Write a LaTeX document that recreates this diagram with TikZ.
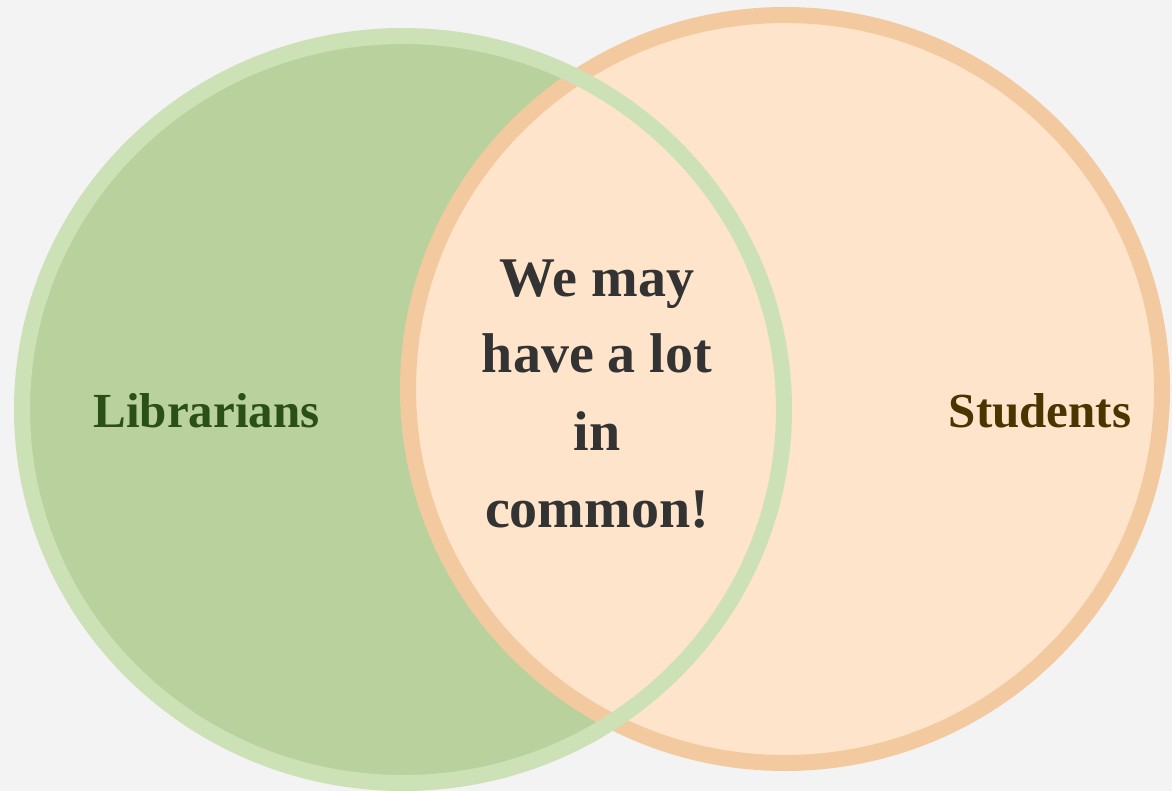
\documentclass[tikz,border=0pt]{standalone}
\usepackage{fontspec}
\setmainfont{Liberation Serif}
\definecolor{bgcol}{HTML}{F3F3F3}
\definecolor{libfill}{HTML}{B8D19D}
\definecolor{libline}{HTML}{CDE1B7}
\definecolor{stufill}{HTML}{FEE4CA}
\definecolor{stuline}{HTML}{F3CA9F}
\definecolor{libtext}{HTML}{2B5017}
\definecolor{stutext}{HTML}{4A3500}
\definecolor{midtext}{HTML}{333333}
\tikzset{
  setlabel/.style={font=\bfseries\fontsize{49}{60}\selectfont, inner sep=0pt, anchor=base},
  midline/.style={font=\bfseries\fontsize{56}{77}\selectfont, text=midtext, inner sep=0pt, anchor=base},
  ring/.style={line width=16pt}
}
\begin{document}
\begin{tikzpicture}[x=1pt,y=-1pt]
  % canvas
  \fill[bgcol] (0,0) rectangle (1172,791);
  \useasboundingbox (0,0) rectangle (1172,791);

  % set centres
  \coordinate (cl) at (403,409.5);
  \coordinate (cr) at (785,389);

  % librarians disc (fill only, its ring is drawn last)
  \fill[libfill] (cl) ellipse [x radius=381pt, y radius=373.5pt];
  % students disc with its ring
  \filldraw[fill=stufill, draw=stuline, ring] (cr) ellipse [x radius=377pt, y radius=374pt];
  % librarians ring on top
  \draw[libline, ring] (cl) ellipse [x radius=381pt, y radius=373.5pt];

  % labels
  \node[setlabel, text=libtext] (lib) at (206.5,427) {Librarians};
  \node[setlabel, text=stutext] (stu) at (1040,427) {Students};

  \node[midline] (m1) at (597,297) {We may};
  \node[midline] (m2) at (597,373) {have a lot};
  \node[midline] (m3) at (597,450) {in};
  \node[midline] (m4) at (597,527) {common!};
\end{tikzpicture}
\end{document}
